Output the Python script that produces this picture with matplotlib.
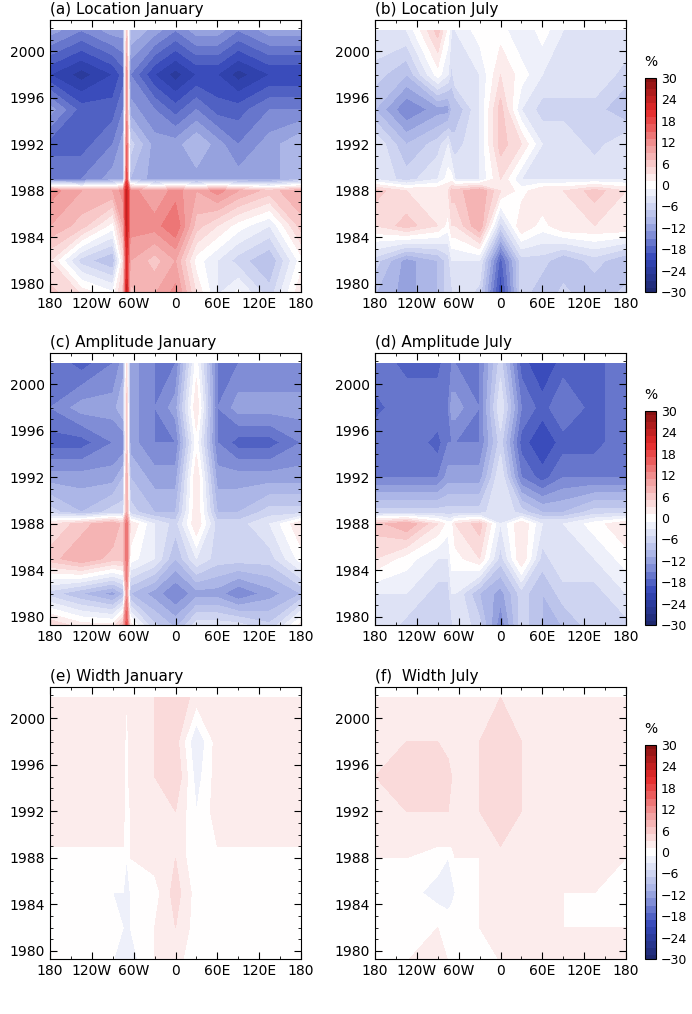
import numpy as np
import matplotlib.pyplot as plt
from matplotlib.colors import LinearSegmentedColormap
from matplotlib.ticker import MultipleLocator

lons = [-180, -135, -90, -75, -70, -65, -30, 0, 30, 60, 90, 135, 180]
years = [1979, 1982, 1985, 1988, 1989, 1992, 1995, 1998, 2001.8]

loc_jan = [[6, 3, 0, 6, 24, 6, 9, 12, 3, -3, 0, -6, 3],
           [3, -6, -9, 3, 21, 9, 6, 9, 0, -3, -6, -9, 0],
           [9, 6, 0, 9, 24, 12, 12, 15, 6, 3, 0, -3, 6],
           [12, 9, 9, 12, 24, 12, 9, 12, 9, 12, 9, 6, 9],
           [-15, -15, -12, -12, 18, -9, -12, -12, -12, -12, -12, -12, -9],
           [-18, -18, -15, -12, 15, -6, -12, -12, -9, -12, -15, -12, -9],
           [-12, -18, -18, -15, 12, -12, -15, -18, -15, -18, -18, -15, -15],
           [-21, -24, -21, -18, 12, -15, -21, -24, -21, -21, -24, -21, -21],
           [-12, -15, -12, -12, 6, -9, -12, -15, -12, -12, -15, -12, -12]]
loc_jul = [[-9, -12, -9, -6, -6, -3, -6, -21, -6, -9, -6, -9, -6],
           [-6, -12, -9, -6, -3, -3, -3, -18, -6, -6, -9, -6, -9],
           [3, 6, 3, 0, 3, 3, 9, -6, 3, 0, 3, 3, 3],
           [6, 3, 3, 3, 6, 6, 9, 3, 0, 3, 3, 6, 3],
           [-3, -6, -3, 0, 0, -3, -3, 3, -3, -3, -3, -3, -3],
           [-3, -9, -6, -3, -6, -6, -3, 6, 3, -3, -3, -6, -3],
           [-9, -15, -12, -12, -9, -9, -3, 6, -3, -6, -6, -6, -9],
           [-6, -9, 0, -3, -6, -3, -3, 3, 0, -3, -3, -3, -6],
           [-3, -3, 6, 0, -3, -3, 0, 0, -3, 0, -3, -3, -3]]
amp_jan = [[6, 3, 3, 9, 18, 3, -6, -9, -3, -3, -3, -6, 3],
           [-6, -9, -12, -9, 12, -9, -12, -15, -12, -12, -15, -12, -9],
           [6, 9, 6, 6, 15, 0, -3, -9, -3, -6, -6, -6, 0],
           [3, 6, 9, 6, 15, 3, -3, -6, 3, -6, -6, -3, 3],
           [-6, -9, -6, -6, 9, -6, -9, -9, 3, -9, -9, -6, -6],
           [-12, -12, -12, -9, 9, -9, -12, -12, 3, -12, -12, -12, -12],
           [-18, -18, -15, -15, 6, -12, -15, -15, 0, -15, -18, -18, -15],
           [-15, -12, -12, -9, 6, -12, -15, -12, 3, -15, -12, -12, -12],
           [-15, -18, -15, -12, 3, -12, -15, -15, 0, -15, -15, -15, -15]]
amp_jul = [[-3, -6, -6, -6, -6, -3, -6, -15, -6, -9, -9, -6, -6],
           [-3, -3, -6, -6, -3, -3, -9, -12, -6, -9, -6, -6, -3],
           [3, 0, -3, -3, 0, 0, 3, -6, 3, -6, -3, -3, 0],
           [6, 9, 3, 0, 0, 3, 6, -3, 3, -3, -3, 0, 3],
           [-6, -6, -6, -6, -6, -6, -6, -3, -6, -9, -9, -6, -6],
           [-15, -15, -15, -12, -12, -12, -12, -3, -15, -18, -15, -15, -15],
           [-15, -15, -18, -15, -15, -15, -15, -6, -18, -21, -18, -18, -15],
           [-18, -15, -15, -15, -12, -12, -15, -3, -15, -18, -15, -18, -15],
           [-15, -18, -18, -15, -15, -15, -15, -6, -18, -21, -18, -18, -15]]
wid_jan = [[1, 1, -1, -2, -3, -2, 1, 2, -1, 1, 1, 1, 1],
           [1, 0, 0, -1, -1, -1, 1, 3, 0, 1, 0, 1, 1],
           [-1, -1, -1, -1, -1, -1, 0, 4, 0, 0, -1, -1, -1],
           [1, 0, 1, 1, -1, 1, 2, 3, -1, 0, 1, 0, 1],
           [1, 1, 1, 1, -1, 1, 2, 3, -1, 1, 1, 1, 1],
           [2, 2, 2, 2, -1, 1, 2, 3, -1, 2, 2, 2, 2],
           [2, 3, 2, 2, 0, 2, 3, 5, -2, 2, 2, 2, 2],
           [2, 2, 2, 2, 0, 2, 3, 4, -3, 2, 1, 2, 2],
           [3, 2, 2, 2, 1, 2, 3, 5, 2, 2, 2, 2, 3]]
wid_jul = [[1, 1, 2, 1, 1, 1, 1, 1, 2, 3, 2, 2, 3],
           [1, 1, 1, 1, 1, 1, 1, 2, 1, 2, 1, 1, 1],
           [1, 0, -2, -3, -2, -1, 1, 2, 1, 2, 1, 1, 1],
           [1, 1, 0, -1, 0, 1, 1, 3, 1, 2, 2, 2, 1],
           [2, 2, 1, 1, 1, 2, 2, 3, 2, 2, 2, 2, 2],
           [3, 3, 3, 3, 2, 3, 3, 4, 3, 3, 3, 3, 3],
           [3, 4, 4, 4, 3, 3, 3, 5, 3, 3, 3, 3, 3],
           [3, 3, 3, 2, 2, 3, 3, 4, 3, 3, 3, 3, 3],
           [3, 3, 3, 3, 2, 3, 3, 3, 3, 3, 3, 3, 3]]

titles = ["(a) Location January", "(b) Location July",
          "(c) Amplitude January", "(d) Amplitude July",
          "(e) Width January", "(f)  Width July"]
fields = [loc_jan, loc_jul, amp_jan, amp_jul, wid_jan, wid_jul]
xticks = [-180, -120, -60, 0, 60, 120, 180]
xlabels = ["180", "120W", "60W", "0", "60E", "120E", "180"]
yticks = [1980, 1984, 1988, 1992, 1996, 2000]

cmap = LinearSegmentedColormap.from_list(
    "bwr2", ["#1c2566", "#3346b8", "#aab4e6", "#ffffff", "#f2a0a0", "#e52a2a", "#7d1010"])
levels = np.arange(-31, 32, 2)

fig = plt.figure(figsize=(6.92, 10.14), dpi=100)
H = 1014.0
lefts = [50 / 692, 375 / 692]
tops = [20, 353, 687]
for i, (f, t) in enumerate(zip(fields, titles)):
    r, c = divmod(i, 2)
    ax = fig.add_axes([lefts[c], 1 - (tops[r] + 272) / H, 251 / 692, 272 / H])
    cs = ax.contourf(lons, years, np.array(f), levels=levels, cmap=cmap)
    ax.set_xlim(-180, 180)
    ax.set_ylim(1979.3, 2002.7)
    ax.set_xticks(xticks)
    ax.set_xticklabels(xlabels)
    ax.set_yticks(yticks)
    ax.xaxis.set_minor_locator(MultipleLocator(30))
    ax.yaxis.set_minor_locator(MultipleLocator(1))
    ax.tick_params(which="both", direction="in", top=True, right=True, labelsize=10)
    ax.tick_params(which="major", length=5)
    ax.tick_params(which="minor", length=2.5)
    ax.text(0, 1.01, t, transform=ax.transAxes, fontsize=11, ha="left", va="bottom")
    if c == 1:
        cax = fig.add_axes([645 / 692, 1 - (tops[r] + 272) / H, 11 / 692, 214 / H])
        cb = fig.colorbar(cs, cax=cax, ticks=np.arange(-30, 31, 6))
        cb.ax.set_ylim(-30, 30)
        cb.ax.tick_params(labelsize=9, length=0)
        cax.text(0.5, 1.04, "%", transform=cax.transAxes, ha="center", va="bottom", fontsize=10)

fig.savefig("out.png", dpi=100)
